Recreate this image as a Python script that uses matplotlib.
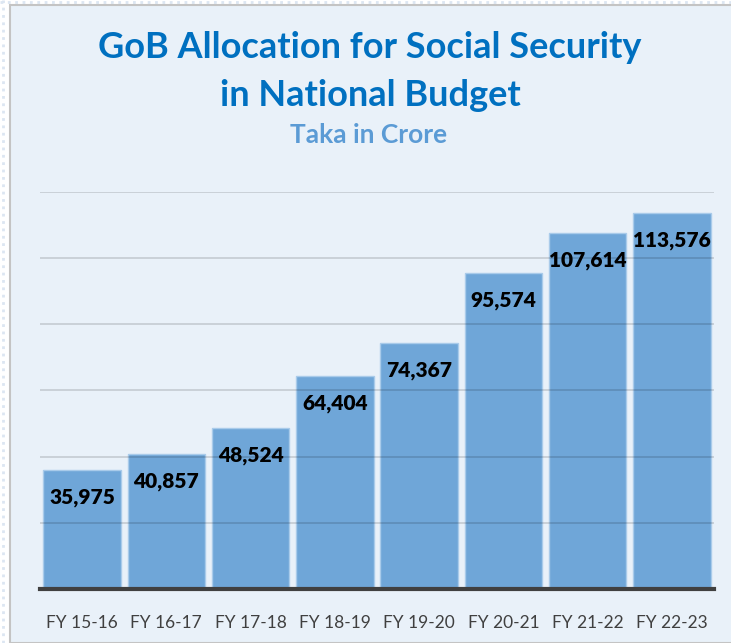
import matplotlib
matplotlib.use("Agg")
import matplotlib.pyplot as plt
from matplotlib.patches import Rectangle
from matplotlib.lines import Line2D

# Chart data
years = ["FY 15-16", "FY 16-17", "FY 17-18", "FY 18-19",
         "FY 19-20", "FY 20-21", "FY 21-22", "FY 22-23"]
allocation = [35975, 40857, 48524, 64404, 74367, 95574, 107614, 113576]

W, H = 731, 643
fig = plt.figure(figsize=(W / 100, H / 100), dpi=100)
fig.patch.set_facecolor("white")

# Chart area background with thin grey border
fig.patches.append(Rectangle((10 / W, 0), 1.0, (H - 5) / H, transform=fig.transFigure,
                             facecolor="#E9F1F9", edgecolor="#C4C4C4", linewidth=1.5,
                             zorder=-10))
# faint dotted outline outside the chart
fig.lines.append(Line2D([3 / W, 3 / W], [0, 1], transform=fig.transFigure,
                        color="#DCE6F2", linestyle=":", linewidth=2, zorder=-10))
fig.lines.append(Line2D([0, 1], [(H - 2) / H, (H - 2) / H], transform=fig.transFigure,
                        color="#DCE6F2", linestyle=":", linewidth=2, zorder=-10))

font = ["Lato", "DejaVu Sans"]

fig.text(370 / W, 1 - 47 / H, "GoB Allocation for Social Security",
         ha="center", va="center", fontsize=26, fontweight="bold",
         color="#0070C0", family=font)
fig.text(370 / W, 1 - 96 / H, "in National Budget",
         ha="center", va="center", fontsize=26, fontweight="bold",
         color="#0070C0", family=font)
fig.text(369 / W, 1 - 135 / H, "Taka in Crore",
         ha="center", va="center", fontsize=19, fontweight="bold",
         color="#5B9BD5", family=font)

ax = fig.add_axes([40 / W, (H - 589) / H, (714 - 40) / W, (589 - 192) / H])
ax.set_facecolor("none")

x = range(len(years))
bars = ax.bar(x, allocation, width=0.92, color="#6FA6D8", edgecolor="#A9CBEA",
              linewidth=1, zorder=2)

ax.set_xlim(-0.5, len(years) - 0.5)
ax.set_ylim(0, 120000)
ax.set_yticks(range(0, 120001, 20000))
ax.yaxis.grid(True, color="black", alpha=0.14, linewidth=1.3, zorder=3)
ax.set_axisbelow(False)
ax.tick_params(axis="y", left=False, labelleft=False)
ax.tick_params(axis="x", length=0, pad=19)
ax.set_xticks(list(x))
ax.set_xticklabels(years, fontsize=12.5, color="#404040", family=font)

for side in ["top", "right", "left"]:
    ax.spines[side].set_visible(False)
ax.spines["bottom"].set_color("#404040")
ax.spines["bottom"].set_linewidth(3)
ax.spines["bottom"].set_zorder(4)

for rect, val in zip(bars, allocation):
    ax.annotate(f"{val:,}", (rect.get_x() + rect.get_width() / 2, val),
                xytext=(0, -18), textcoords="offset pixels",
                ha="center", va="top", fontsize=15, fontweight="heavy",
                color="black", family=font, zorder=5)

fig.savefig("out.png", dpi=100, facecolor="white")
